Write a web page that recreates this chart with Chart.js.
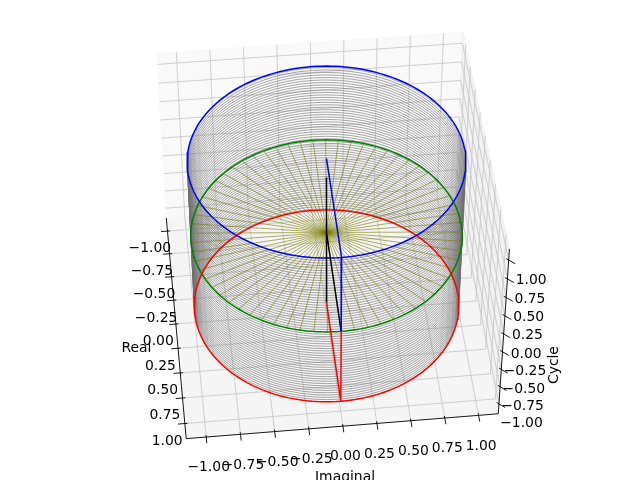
<!DOCTYPE html>
<html>
<head>
<meta charset="utf-8">
<script src="https://cdn.jsdelivr.net/npm/chart.js@4.4.0/dist/chart.umd.min.js"></script>
<style>
  html, body { margin: 0; padding: 0; background: #fff; }
  #wrap { width: 640px; height: 480px; position: relative; }
</style>
</head>
<body>
<div id="wrap"><canvas id="chart"></canvas></div>
<script>
/*=============== DATA ===============*/

// axis ticks (same for Real, Imaginal and Cycle)
const tickValues = [-1, -0.75, -0.5, -0.25, 0, 0.25, 0.5, 0.75, 1];
const tickLabels = ['−1.00', '−0.75', '−0.50', '−0.25', '0.00', '0.25', '0.50', '0.75', '1.00'];
const axisTitles = { x: 'Real', y: 'Imaginal', z: 'Cycle' };
const dataRange = [-1, 1];

// unit rings at three cycle levels
const ringLevels = { blue: 1, green: 0, red: -1 };
const ringSamples = 180;

// dense helix wound round the cylinder
const helixTurns = 60;
const helixPerTurn = 64;
const helixCycle = [-1, 1];

// spokes from the origin to the green ring
const spokeCount = 64;

// phasor lines, points as [real, imag, cycle]
const blackLines = [
  [[0, 0, -1], [0, 0, 0.75]],
  [[0, 0, 0], [1, 0, 0]]
];
const blueLines = [[[0, 0, 1], [1, 0, 1], [1, 0, 0]]];
const redLines = [[[0, 0, -1], [1, 0, -1], [1, 0, 0]]];

/*=============== 3D VIEW ===============*/

const view = { elev: 45, azim: -6, dist: 10 };
const pxPerUnit = 272;               // at the focal depth
const centre = { x: 326.5, y: 232.5 };

function paddedLimits(lo, hi) {
  const m = (hi - lo) * 0.05;
  const a = lo - m, b = hi + m;
  const v = (b - a) / 48;
  return [a - v, b + v];
}
const xLim = paddedLimits(...dataRange);
const yLim = paddedLimits(...dataRange);
const zLim = paddedLimits(...dataRange);

const aspect = [4, 4, 3];
const aspectNorm = Math.hypot(...aspect);
const box = aspect.map(a => a * 1.8294640721620434 / aspectNorm);

const el = view.elev * Math.PI / 180, az = view.azim * Math.PI / 180;
const W = [Math.cos(el) * Math.cos(az), Math.cos(el) * Math.sin(az), Math.sin(el)];
const U = [-Math.sin(az), Math.cos(az), 0];
const V = [-Math.sin(el) * Math.cos(az), -Math.sin(el) * Math.sin(az), Math.cos(el)];
const dot = (a, b) => a[0] * b[0] + a[1] * b[1] + a[2] * b[2];

function project(x, y, z) {
  const p = [
    (x - (xLim[0] + xLim[1]) / 2) / (xLim[1] - xLim[0]) * box[0],
    (y - (yLim[0] + yLim[1]) / 2) / (yLim[1] - yLim[0]) * box[1],
    (z - (zLim[0] + zLim[1]) / 2) / (zLim[1] - zLim[0]) * box[2]
  ];
  const d = view.dist - dot(W, p);
  return { x: dot(U, p) / d, y: dot(V, p) / d };
}

const GAP = { x: NaN, y: NaN };

function polylines(list) {
  const out = [];
  list.forEach(line => {
    line.forEach(p => out.push(project(p[0], p[1], p[2])));
    out.push(GAP);
  });
  return out;
}

function ring(level) {
  const pts = [];
  for (let i = 0; i <= ringSamples; i++) {
    const th = 2 * Math.PI * i / ringSamples;
    pts.push(project(Math.cos(th), Math.sin(th), level));
  }
  return pts;
}

function helix() {
  const pts = [];
  const n = helixTurns * helixPerTurn;
  for (let k = 0; k <= n; k++) {
    const t = k / n;
    const th = 2 * Math.PI * helixTurns * t;
    const z = helixCycle[0] + (helixCycle[1] - helixCycle[0]) * t;
    pts.push(project(Math.cos(th), Math.sin(th), z));
  }
  return pts;
}

function spokes() {
  const pts = [];
  for (let i = 0; i < spokeCount; i++) {
    const th = 2 * Math.PI * i / spokeCount;
    pts.push(project(0, 0, 0), project(Math.cos(th), Math.sin(th), 0), GAP);
  }
  return pts;
}

/*=============== AXES BOX PLUGIN ===============*/

const FONT = '13.9px "DejaVu Sans", "Liberation Sans", sans-serif';

const box3d = {
  id: 'box3d',
  beforeDatasetsDraw(chart) {
    const ctx = chart.ctx;
    const sx = chart.scales.x, sy = chart.scales.y;
    const px = (x, y, z) => {
      const q = project(x, y, z);
      return [sx.getPixelForValue(q.x), sy.getPixelForValue(q.y)];
    };
    const [x0, x1] = xLim, [y0, y1] = yLim, [z0, z1] = zLim;

    const poly = (pts, fill) => {
      ctx.beginPath();
      pts.forEach((p, i) => {
        const q = px(...p);
        i ? ctx.lineTo(q[0], q[1]) : ctx.moveTo(q[0], q[1]);
      });
      ctx.closePath();
      ctx.fillStyle = fill;
      ctx.fill();
      ctx.strokeStyle = fill;
      ctx.lineWidth = 1;
      ctx.stroke();
    };
    const seg = (a, b, color, width) => {
      const p = px(...a), q = px(...b);
      ctx.beginPath();
      ctx.moveTo(p[0], p[1]);
      ctx.lineTo(q[0], q[1]);
      ctx.strokeStyle = color;
      ctx.lineWidth = width;
      ctx.stroke();
    };

    ctx.save();
    // panes
    poly([[x0, y0, z0], [x0, y1, z0], [x0, y1, z1], [x0, y0, z1]], '#f9f9f9');
    poly([[x0, y1, z0], [x1, y1, z0], [x1, y1, z1], [x0, y1, z1]], '#f2f2f2');
    poly([[x0, y0, z0], [x1, y0, z0], [x1, y1, z0], [x0, y1, z0]], '#f5f5f5');

    // grid
    const grid = '#c4c4c4';
    tickValues.forEach(t => {
      seg([x0, t, z0], [x0, t, z1], grid, 0.8);
      seg([x0, y0, t], [x0, y1, t], grid, 0.8);
      seg([t, y1, z0], [t, y1, z1], grid, 0.8);
      seg([x0, y1, t], [x1, y1, t], grid, 0.8);
      seg([t, y0, z0], [t, y1, z0], grid, 0.8);
      seg([x0, t, z0], [x1, t, z0], grid, 0.8);
    });

    // axis lines
    seg([x0, y0, z0], [x1, y0, z0], '#000', 0.9);
    seg([x1, y0, z0], [x1, y1, z0], '#000', 0.9);
    seg([x1, y1, z0], [x1, y1, z1], '#000', 0.9);

    // tick marks
    tickValues.forEach(t => {
      seg([t, y0 + 0.02, z0], [t, y0 - 0.05, z0], '#000', 0.9);
      seg([x1 - 0.02, t, z0], [x1 + 0.06, t, z0], '#000', 0.9);
      seg([x1 - 0.015, y1 - 0.015, t], [x1 + 0.04, y1 + 0.04, t], '#000', 0.9);
    });

    // tick labels
    ctx.fillStyle = '#000';
    ctx.font = FONT;
    ctx.textAlign = 'center';
    ctx.textBaseline = 'middle';
    tickValues.forEach((t, i) => {
      let p = px(t, y0, z0);
      ctx.fillText(tickLabels[i], p[0] - 17.6, p[1] + 17.7);
      p = px(x1, t, z0);
      ctx.fillText(tickLabels[i], p[0] + 2.5, p[1] + 30.6);
      p = px(x1, y1, t);
      ctx.fillText(tickLabels[i], p[0] + 22.5, p[1] + 20);
    });

    // axis titles
    let p = px(0, y0, z0);
    ctx.fillText(axisTitles.x, p[0] - 39.4, p[1] + 24);
    p = px(x1, 0, z0);
    ctx.fillText(axisTitles.y, p[0] + 2.1, p[1] + 50.9);
    p = px(x1, y1, 0);
    ctx.translate(p[0] + 50.3, p[1] + 31.1);
    ctx.rotate(-Math.PI / 2);
    ctx.fillText(axisTitles.z, 0, 0);
    ctx.restore();
  }
};

/*=============== CHART ===============*/

const K = pxPerUnit * view.dist;
const series = (data, color, width, order) => ({
  data, borderColor: color, borderWidth: width, order,
  showLine: true, pointRadius: 0, spanGaps: false, fill: false
});

new Chart(document.getElementById('chart'), {
  type: 'scatter',
  data: {
    datasets: [
      series(helix(), '#6e6e6e', 0.6, 10),
      series(spokes(), '#7a7a00', 0.6, 9),
      series(ring(ringLevels.red), '#ff0000', 1.5, 6),
      series(ring(ringLevels.green), '#008000', 1.5, 7),
      series(ring(ringLevels.blue), '#0000ff', 1.5, 5),
      series(polylines(blackLines), '#000000', 1.5, 4),
      series(polylines(redLines), '#ff0000', 1.5, 3),
      series(polylines(blueLines), '#0000ff', 1.5, 2)
    ]
  },
  options: {
    responsive: true,
    maintainAspectRatio: false,
    animation: false,
    events: [],
    layout: { padding: 0 },
    scales: {
      x: { type: 'linear', display: false, min: -centre.x / K, max: (640 - centre.x) / K },
      y: { type: 'linear', display: false, min: -(480 - centre.y) / K, max: centre.y / K }
    },
    plugins: {
      legend: { display: false },
      tooltip: { enabled: false }
    }
  },
  plugins: [box3d]
});
</script>
</body>
</html>
